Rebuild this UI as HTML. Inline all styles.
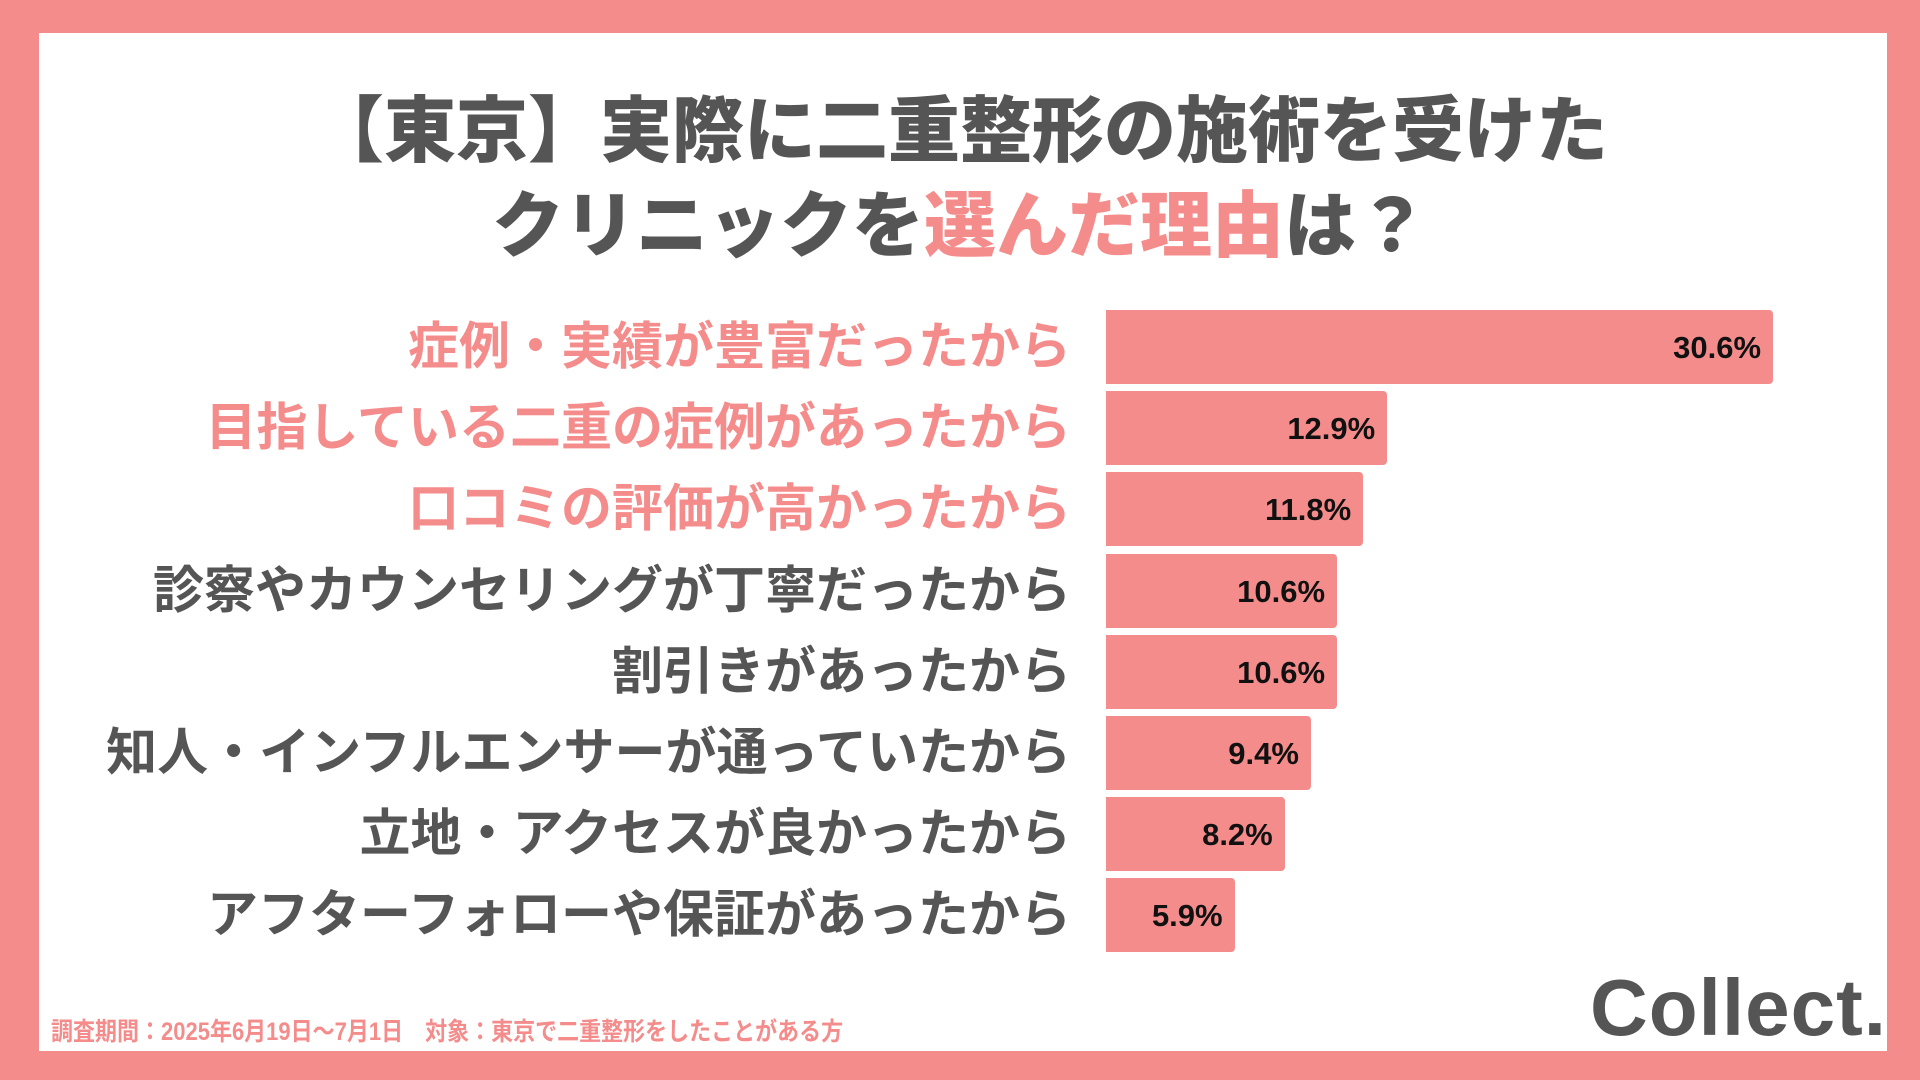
<!DOCTYPE html>
<html><head><meta charset="utf-8"><style>
html,body{margin:0;padding:0}
body{width:1920px;height:1080px;background:#f58c8c;position:relative;overflow:hidden;font-family:"Liberation Sans","Noto Sans CJK JP",sans-serif}
#panel{position:absolute;left:39px;top:33px;width:1848px;height:1018px;background:#fff}
.title{position:absolute;left:0;width:1920px;text-align:center;font-size:72px;font-weight:900;color:#555;line-height:1}
.hl{color:#f58c8c}
.lab{position:absolute;right:849px;font-size:51px;font-weight:700;line-height:1;white-space:nowrap}
.bar{position:absolute;background:#f58c8c;border-radius:0 4px 4px 0}
.val{position:absolute;font-size:31px;font-weight:700;color:#111;line-height:1;text-align:right}
#foot{position:absolute;left:51px;top:1012px;font-size:25px;font-weight:700;color:#f58c8c;white-space:nowrap;transform:scaleX(0.88);transform-origin:left}
#logo{position:absolute;left:1590px;top:968px;font-size:80px;font-weight:900;color:#555;line-height:1;letter-spacing:1px}
</style></head><body>
<div id="panel"></div>
<div class="title" style="top:96px">【東京】実際に二重整形の施術を受けた</div>
<div class="title" style="top:191px">クリニックを<span class="hl">選んだ理由</span>は？</div>
<div id="chart"></div>
<div id="foot">調査期間：2025年6月19日～7月1日　対象：東京で二重整形をしたことがある方</div>
<div id="logo">Collect.</div>
<script>
const categories=["症例・実績が豊富だったから","目指している二重の症例があったから","口コミの評価が高かったから","診察やカウンセリングが丁寧だったから","割引きがあったから","知人・インフルエンサーが通っていたから","立地・アクセスが良かったから","アフターフォローや保証があったから"];
const values=[30.6,12.9,11.8,10.6,10.6,9.4,8.2,5.9];
const highlighted=[true,true,true,false,false,false,false,false];
const x0=1106,pxPer=21.8,y0=310,pitch=81.2,bh=74;
function xs(v){return v*pxPer;}
function ys(i){return y0+i*pitch;}
const chart=document.getElementById('chart');
categories.forEach((c,i)=>{
  const y=ys(i);
  const l=document.createElement('div');
  l.className='lab';
  
  
  l.style.top=(y+11)+'px';
  l.style.color=highlighted[i]?'#f58c8c':'#555';
  l.textContent=c;
  chart.appendChild(l);
  const b=document.createElement('div');
  b.className='bar';
  
  
  b.style.left=x0+'px';b.style.top=y+'px';b.style.height=bh+'px';b.style.width=xs(values[i])+'px';
  chart.appendChild(b);
  const v=document.createElement('div');
  v.className='val';
  
  
  v.style.left=(x0)+'px';v.style.width=(xs(values[i])-12)+'px';v.style.top=(y+22)+'px';
  v.textContent=values[i].toFixed(1)+'%';
  chart.appendChild(v);
});
</script>
</body></html>
